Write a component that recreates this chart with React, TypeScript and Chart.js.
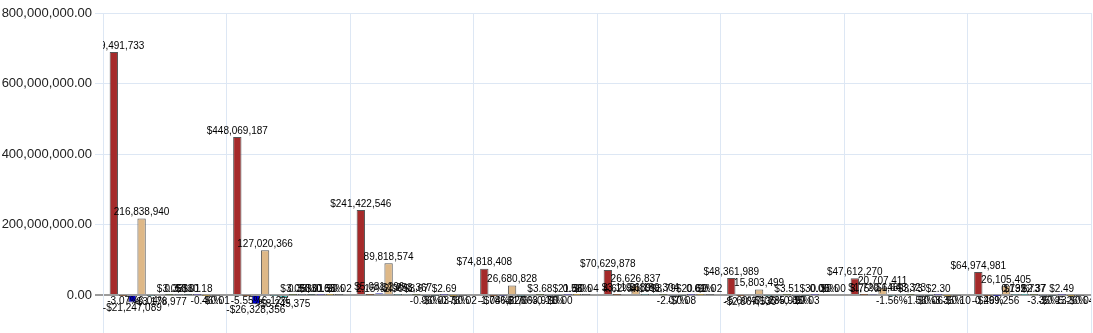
import React, { useEffect, useRef } from "react";
import { Chart, registerables } from "chart.js";

Chart.register(...registerables);

const categories = ["Co 1", "Co 2", "Co 3", "Co 4", "Co 5", "Co 6", "Co 7", "Co 8"];

const marketCap = [689491733, 448069187, 241422546, 74818408, 70629878, 48361989, 47612270, 64974981];
const marketCapChangePct = [-3.07, -5.55, 2.15, -1.04, 4.62, -5.6, 3.75, -0.46];
const marketCapChange = [-21247089, -26328356, 5081296, -786826, 3119689, -2867530, 1720648, -299256];
const volume = [216838940, 127020366, 89818574, 26680828, 26626837, 15803499, 20707411, 26105405];
const volumeChangePct = [-6.04, -6.12, 2.96, -2.76, 4.1, -7.05, -1.56, 0.73];
const volumeChange = [-3178977, -8245375, 1253367, -1063976, 1189304, -1235910, 1648323, 192737];
const price = [3.05, 3.05, 3.67, 3.68, 3.79, 3.51, 3.73, 2.37];
const priceChangePct = [0.33, 0.35, -0.96, -0.11, -2.07, -0.85, -1.58, -3.35];
const priceChange = [0.01, 0.01, -0.03, -0.004, -0.08, -0.03, -0.06, -0.13];
const refPrice = [30.18, 30.58, 2.69, 21.86, 20.69, 30.05, 2.3, 2.49];
const refChangePct = [-0.46, 0.65, -0.78, 0.58, 0.61, 0.0, -3.35, -5.26];
const refChange = [-0.01, 0.02, -0.02, 0.04, 0.02, 0.0, -0.1, -0.04];

const yTicks = [0, 200000000, 400000000, 600000000, 800000000];

const money0 = (v: number) => (v < 0 ? "-" : "") + "$" + Math.abs(v).toLocaleString("en-US");
const count0 = (v: number) => v.toLocaleString("en-US");
const pct2 = (v: number) => v.toFixed(2) + "%";
const money2 = (v: number) => (v < 0 ? "-" : "") + "$" + Math.abs(v).toFixed(2);

const series = [
  { name: "Market Cap", data: marketCap, color: "#A52A2A", fmt: money0 },
  { name: "Market Cap Chg %", data: marketCapChangePct, color: "#8B4513", fmt: pct2 },
  { name: "Market Cap Chg", data: marketCapChange, color: "#0000CD", fmt: money0 },
  { name: "Volume", data: volume, color: "#DEB887", fmt: count0 },
  { name: "Volume Chg %", data: volumeChangePct, color: "#5F9EA0", fmt: pct2 },
  { name: "Volume Chg", data: volumeChange, color: "#48C9C4", fmt: money0 },
  { name: "Price", data: price, color: "#556B2F", fmt: money2 },
  { name: "Price Chg %", data: priceChangePct, color: "#708090", fmt: pct2 },
  { name: "Price Chg", data: priceChange, color: "#2F4F4F", fmt: money2 },
  { name: "Ref Price", data: refPrice, color: "#6A5ACD", fmt: money2 },
  { name: "Ref Chg %", data: refChangePct, color: "#DAA520", fmt: pct2 },
  { name: "Ref Chg", data: refChange, color: "#696969", fmt: money2 },
];

const labelPlugin = {
  id: "barValueLabels",
  afterDatasetsDraw(chart: any) {
    const { ctx, chartArea } = chart;
    ctx.save();
    ctx.beginPath();
    ctx.rect(chartArea.left, chartArea.top, chartArea.right - chartArea.left, chartArea.bottom - chartArea.top);
    ctx.clip();
    ctx.font = '10px Arial, "Liberation Sans", sans-serif';
    ctx.fillStyle = "#000";
    ctx.textAlign = "center";
    chart.data.datasets.forEach((ds: any, i: number) => {
      const meta = chart.getDatasetMeta(i);
      meta.data.forEach((el: any, j: number) => {
        const v = ds.data[j] as number;
        const text = series[i].fmt(v);
        if (v >= 0) {
          ctx.textBaseline = "bottom";
          ctx.fillText(text, el.x, el.y - 1);
        } else {
          ctx.textBaseline = "top";
          ctx.fillText(text, el.x, el.y + 1);
        }
      });
    });
    ctx.restore();
  },
};

export default function App() {
  const ref = useRef<HTMLCanvasElement | null>(null);
  useEffect(() => {
    if (!ref.current) return;
    const chart = new Chart(ref.current, {
      type: "bar",
      data: {
        labels: categories,
        datasets: series.map((s) => ({
          label: s.name,
          data: s.data,
          backgroundColor: s.color,
          borderColor: "#555555",
          borderWidth: 1,
          categoryPercentage: 0.9,
          barPercentage: 0.9,
        })),
      },
      options: {
        responsive: false,
        animation: false,
        layout: { padding: { top: 13, right: 2, bottom: 0, left: 0 } },
        plugins: { legend: { display: false }, tooltip: { enabled: false } },
        scales: {
          x: {
            offset: true,
            grid: { offset: true, color: "#dde7f4", lineWidth: 1, drawTicks: false },
            border: { display: false },
            ticks: { display: false },
            afterFit: (scale: any) => {
              scale.height = 0;
            },
          },
          y: {
            min: -111200000,
            max: 800000000,
            afterBuildTicks: (scale: any) => {
              scale.ticks = yTicks.map((v) => ({ value: v }));
            },
            afterFit: (scale: any) => {
              scale.width = 103;
            },
            grid: {
              color: (c: any) => (c.tick && c.tick.value === 0 ? "#9c9c9c" : "#dde7f4"),
              lineWidth: (c: any) => (c.tick && c.tick.value === 0 ? 2 : 1),
              tickLength: 8,
            },
            border: { color: "#dde7f4" },
            ticks: {
              padding: 3,
              color: "#222",
              font: { family: 'Arial, "Liberation Sans", sans-serif', size: 13 },
              callback: (v: any) =>
                Number(v).toLocaleString("en-US", { minimumFractionDigits: 2, maximumFractionDigits: 2 }),
            },
          },
        },
      },
      plugins: [labelPlugin],
    });
    return () => chart.destroy();
  }, []);
  return (
    <div
      style={{
        position: "absolute",
        left: 0,
        top: 0,
        width: 1093,
        height: 333,
        overflow: "hidden",
        background: "#fff",
      }}
    >
      <canvas ref={ref} width={1093} height={345} style={{ display: "block" }} />
    </div>
  );
}
